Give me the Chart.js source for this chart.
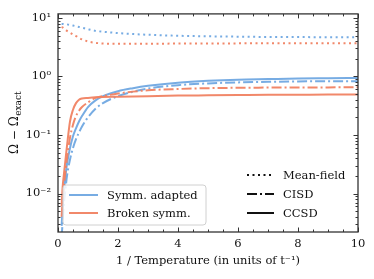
<!DOCTYPE html>
<html>
<head>
<meta charset="utf-8">
<script src="https://cdn.jsdelivr.net/npm/chart.js@4"></script>
<style>
  body{margin:0;background:#fff;}
  #wrap{width:374px;height:279px;}
</style>
</head>
<body>
<div id="wrap"><canvas id="chart" width="374" height="279"></canvas></div>
<script>
// 1 / temperature (units of 1/t)
var invT = [0.12, 0.15, 0.2, 0.25, 0.3, 0.4, 0.5, 0.6, 0.7, 0.8, 1, 1.25, 1.5, 2, 2.5, 3, 4, 5, 6, 7, 8, 9, 10];

// symmetry adapted
var symmMeanField = [7.9, 7.9, 7.85, 7.8, 7.75, 7.6, 7.4, 7.2, 7.0, 6.8, 6.4, 6.0, 5.8, 5.5, 5.3, 5.15, 4.95, 4.85, 4.78, 4.72, 4.7, 4.68, 4.66];
var symmCISD = [0.0018, 0.003, 0.007, 0.012, 0.02, 0.038, 0.06, 0.085, 0.11, 0.14, 0.2, 0.28, 0.35, 0.46, 0.55, 0.62, 0.71, 0.76, 0.79, 0.81, 0.82, 0.83, 0.83];
var symmCCSD = [0.0028, 0.005, 0.011, 0.02, 0.032, 0.06, 0.095, 0.13, 0.17, 0.21, 0.3, 0.39, 0.46, 0.56, 0.63, 0.69, 0.78, 0.84, 0.88, 0.9, 0.92, 0.93, 0.94];

// broken symmetry
var brokenMeanField = [7.0, 6.9, 6.6, 6.3, 6.0, 5.6, 5.2, 4.9, 4.55, 4.3, 3.95, 3.75, 3.65, 3.6, 3.6, 3.62, 3.64, 3.66, 3.67, 3.68, 3.69, 3.7, 3.7];
var brokenCISD = [0.004, 0.007, 0.014, 0.025, 0.04, 0.09, 0.15, 0.21, 0.26, 0.3, 0.36, 0.43, 0.46, 0.51, 0.55, 0.58, 0.61, 0.63, 0.64, 0.645, 0.65, 0.65, 0.655];
var brokenCCSD = [0.006, 0.012, 0.022, 0.038, 0.065, 0.17, 0.27, 0.35, 0.40, 0.42, 0.43, 0.44, 0.445, 0.45, 0.455, 0.46, 0.47, 0.475, 0.48, 0.485, 0.487, 0.49, 0.49];

var xTicks = [0, 2, 4, 6, 8, 10];
var yTicks = [0.01, 0.1, 1, 10];
var yTickLabels = ["10\u207B\u00B2", "10\u207B\u00B9", "10\u2070", "10\u00B9"];

var BLUE = "rgba(112,168,226,0.95)";
var ORANGE = "rgba(240,130,98,0.95)";
var FONT = "'DejaVu Serif', serif";

var dotted = [2, 3.5];
var dashdot = [10, 3, 2, 3];

function pts(arr){
    return invT.map(function(x, i){ return {x: x, y: arr[i]}; });
}

function line(arr, color, dash){
    return {
        data: pts(arr),
        borderColor: color,
        backgroundColor: color,
        borderWidth: 2,
        borderDash: dash,
        pointRadius: 0,
        fill: false,
        cubicInterpolationMode: 'monotone'
    };
}

// frame, inward ticks, legends and y title
var decor = {
    id: 'decor',
    afterDatasetsDraw: function(chart){
        var ctx = chart.ctx;
        var a = chart.chartArea;
        var xs = chart.scales.x, ys = chart.scales.y;
        ctx.save();
        ctx.strokeStyle = "#333";
        ctx.lineWidth = 1;
        ctx.setLineDash([]);
        // ticks
        ctx.beginPath();
        for (var v = 0; v <= 10.001; v += 0.5){
            var px = Math.round(xs.getPixelForValue(v)) + 0.5;
            var len = (Math.abs(v % 2) < 1e-6) ? 4.5 : 2.5;
            ctx.moveTo(px, a.bottom); ctx.lineTo(px, a.bottom - len);
            ctx.moveTo(px, a.top); ctx.lineTo(px, a.top + len);
        }
        for (var e = -3; e <= 1; e++){
            for (var m = 1; m <= 9; m++){
                var val = m * Math.pow(10, e);
                if (val < ys.min || val > ys.max) continue;
                var py = Math.round(ys.getPixelForValue(val)) + 0.5;
                var l = (m === 1) ? 4.5 : 2.5;
                ctx.moveTo(a.left, py); ctx.lineTo(a.left + l, py);
                ctx.moveTo(a.right, py); ctx.lineTo(a.right - l, py);
            }
        }
        ctx.stroke();
        // frame
        ctx.lineWidth = 1.3;
        ctx.strokeRect(a.left, a.top, a.right - a.left, a.bottom - a.top);

        // left legend
        var bx = 63, by = 185, bw = 143, bh = 40;
        ctx.beginPath();
        ctx.roundRect(bx, by, bw, bh, 3);
        ctx.fillStyle = "rgba(255,255,255,0.85)";
        ctx.fill();
        ctx.strokeStyle = "#d0d0d0";
        ctx.lineWidth = 1;
        ctx.stroke();
        ctx.font = "11.5px " + FONT;
        ctx.textBaseline = "middle";
        ctx.textAlign = "left";
        var left = [["Symm. adapted", BLUE, 195], ["Broken symm.", ORANGE, 213]];
        left.forEach(function(it){
            ctx.strokeStyle = it[1];
            ctx.lineWidth = 2;
            ctx.beginPath();
            ctx.moveTo(69, it[2]); ctx.lineTo(98, it[2]);
            ctx.stroke();
            ctx.fillStyle = "#111";
            ctx.fillText(it[0], 107, it[2] + 1);
        });

        // right legend (line styles)
        var right = [["Mean-field", dotted, 175], ["CISD", dashdot, 194], ["CCSD", [], 213]];
        right.forEach(function(it){
            ctx.strokeStyle = "#111";
            ctx.lineWidth = 2;
            ctx.setLineDash(it[1]);
            ctx.beginPath();
            ctx.moveTo(247, it[2]); ctx.lineTo(274, it[2]);
            ctx.stroke();
            ctx.setLineDash([]);
            ctx.fillStyle = "#111";
            ctx.fillText(it[0], 283, it[2] + 1);
        });

        // y title with subscript
        ctx.translate(14, (a.top + a.bottom) / 2);
        ctx.rotate(-Math.PI / 2);
        var main = "\u03A9 \u2212 \u03A9";
        ctx.font = "12px " + FONT;
        var w1 = ctx.measureText(main).width;
        ctx.font = "9px " + FONT;
        var w2 = ctx.measureText("exact").width;
        var x0 = -(w1 + w2) / 2;
        ctx.textBaseline = "alphabetic";
        ctx.font = "12px " + FONT;
        ctx.fillText(main, x0, 4);
        ctx.font = "9px " + FONT;
        ctx.fillText("exact", x0 + w1 + 0.5, 7);
        ctx.restore();
    }
};

var chart = new Chart(document.getElementById('chart').getContext('2d'), {
    type: 'line',
    data: {
        datasets: [
            line(brokenMeanField, ORANGE, dotted),
            line(brokenCISD, ORANGE, dashdot),
            line(brokenCCSD, ORANGE, []),
            line(symmMeanField, BLUE, dotted),
            line(symmCISD, BLUE, dashdot),
            line(symmCCSD, BLUE, [])
        ]
    },
    options: {
        responsive: false,
        animation: false,
        events: [],
        layout: {padding: {left: 0, top: 10, right: 16, bottom: 0}},
        plugins: {legend: {display: false}, tooltip: {enabled: false}},
        scales: {
            x: {
                type: 'linear',
                min: 0, max: 10,
                afterBuildTicks: function(s){ s.ticks = xTicks.map(function(v){ return {value: v}; }); },
                afterFit: function(s){ s.height = 47; },
                grid: {display: false, drawTicks: false},
                border: {display: false},
                ticks: {color: "#111", padding: 5, font: {family: FONT, size: 11.5}, maxRotation: 0},
                title: {
                    display: true,
                    text: "1 / Temperature (in units of t\u207B\u00B9)",
                    color: "#111",
                    font: {family: FONT, size: 11.5},
                    padding: {top: 0, bottom: 11}
                }
            },
            y: {
                type: 'logarithmic',
                min: 0.0022, max: 11.7,
                afterBuildTicks: function(s){ s.ticks = yTicks.map(function(v){ return {value: v}; }); },
                afterFit: function(s){ s.width = 58; },
                grid: {display: false, drawTicks: false},
                border: {display: false},
                ticks: {
                    color: "#111", padding: 7, autoSkip: false,
                    font: {family: FONT, size: 11.5},
                    callback: function(v){
                        var i = yTicks.indexOf(v);
                        return i >= 0 ? yTickLabels[i] : '';
                    }
                }
            }
        }
    },
    plugins: [decor]
});
</script>
</body>
</html>
